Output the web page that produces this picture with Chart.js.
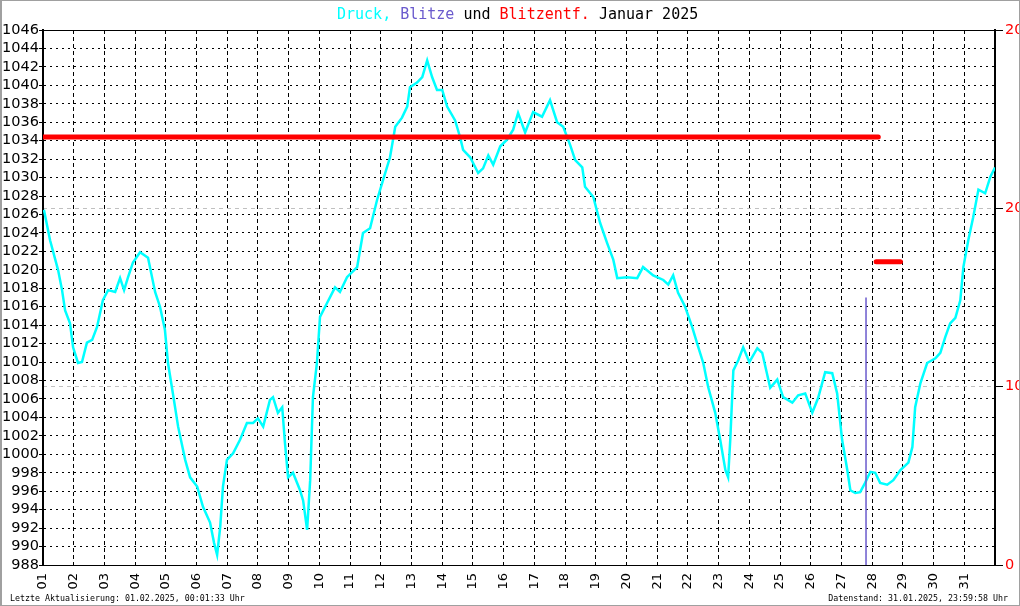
<!DOCTYPE html>
<html>
<head>
<meta charset="utf-8">
<script src="https://cdn.jsdelivr.net/npm/chart.js@4.4.1/dist/chart.umd.min.js"></script>
<style>
body{margin:0;background:#fff}
#rahmen{position:relative;width:1020px;height:606px;overflow:hidden}
#rand{position:absolute;left:0;top:0;width:1020px;height:606px;box-sizing:border-box;border:1px solid #a0a0a0;border-left-width:2px;pointer-events:none}
#titel{position:absolute;left:337px;top:5px;font:15px "DejaVu Sans Mono",monospace;white-space:pre;line-height:18px;color:#000}
.fuss{position:absolute;top:593px;font:8.3px "DejaVu Sans Mono",monospace;white-space:pre;line-height:10px;color:#000}
</style>
</head>
<body>
<div id="rahmen">
  <canvas id="druck" width="1020" height="606"></canvas>
  <div id="titel"><span style="color:#00ffff">Druck,</span> <span style="color:#6a5acd">Blitze</span> und <span style="color:#ff0000">Blitzentf.</span> Januar 2025</div>
  <div class="fuss" style="left:10px">Letzte Aktualisierung: 01.02.2025, 00:01:33 Uhr</div>
  <div class="fuss" style="right:12px">Datenstand: 31.01.2025, 23:59:58 Uhr</div>
  <div id="rand"></div>
</div>
<script>
// Luftdruck (hPa), Zeit als Tag im Januar (1.0 = 01.01. 00:00)
var druckTag = [
  1.03,1.23,1.49,1.62,1.72,1.88,1.98,2.14,2.27,2.43,
  2.60,2.76,2.95,3.12,3.35,3.51,3.64,3.77,3.93,4.16,
  4.42,4.65,4.81,4.97,5.07,5.23,5.40,5.63,5.79,6.02,
  6.21,6.44,6.57,6.67,6.77,6.86,6.99,7.19,7.42,7.64,
  7.84,8.00,8.17,8.39,8.49,8.65,8.79,8.88,8.98,9.14,
  9.37,9.47,9.60,9.70,9.79,9.92,10.02,10.25,10.51,10.67,
  10.90,11.23,11.42,11.65,11.88,12.07,12.30,12.47,12.69,12.86,
  12.95,13.18,13.35,13.51,13.67,13.83,14.00,14.16,14.42,14.58,
  14.68,14.91,15.17,15.33,15.50,15.66,15.89,16.11,16.31,16.47,
  16.70,16.96,17.25,17.51,17.74,17.94,18.17,18.33,18.56,18.65,
  18.92,19.14,19.37,19.57,19.70,20.02,20.35,20.54,20.87,21.20,
  21.36,21.52,21.68,21.91,22.14,22.34,22.50,22.66,22.89,23.05,
  23.22,23.31,23.38,23.48,23.64,23.80,24.00,24.26,24.42,24.68,
  24.91,25.10,25.40,25.59,25.82,26.05,26.24,26.47,26.70,26.86,
  27.02,27.19,27.29,27.45,27.61,27.77,27.94,28.10,28.26,28.49,
  28.69,28.92,29.18,29.31,29.40,29.57,29.79,30.06,30.22,30.38,
  30.54,30.71,30.87,30.97,31.13,31.29,31.46,31.68,31.85,32.00
];
var druckWert = [
  1026.5,1023.2,1020.0,1017.8,1015.6,1014.2,1011.6,1009.9,1010.0,1012.1,
  1012.4,1013.8,1016.7,1017.8,1017.6,1019.1,1017.8,1019.2,1020.8,1021.9,
  1021.3,1017.6,1016.0,1013.5,1009.9,1006.6,1003.0,999.4,997.5,996.5,
  994.3,992.6,990.4,989.1,992.1,996.5,999.4,1000.1,1001.6,1003.4,
  1003.4,1003.9,1003.0,1005.9,1006.2,1004.5,1005.1,1001.2,997.5,998.0,
  996.1,995.0,991.8,997.2,1006.2,1009.9,1014.9,1016.4,1018.1,1017.6,
  1019.2,1020.3,1024.0,1024.5,1027.6,1029.7,1032.2,1035.5,1036.5,1037.7,
  1039.8,1040.3,1040.9,1042.7,1040.9,1039.5,1039.5,1037.7,1036.2,1034.4,
  1033.0,1032.2,1030.5,1031.0,1032.4,1031.4,1033.4,1034.1,1035.2,1037.0,
  1034.9,1037.1,1036.6,1038.4,1036.0,1035.5,1033.5,1031.9,1031.1,1029.0,
  1027.9,1025.1,1022.9,1021.1,1019.1,1019.2,1019.1,1020.3,1019.4,1018.9,
  1018.4,1019.4,1017.5,1016.0,1013.8,1011.6,1009.9,1007.3,1004.5,1001.6,
  998.3,997.5,1001.6,1009.1,1010.2,1011.6,1010.0,1011.5,1011.0,1007.2,
  1008.1,1006.2,1005.6,1006.4,1006.6,1004.5,1006.1,1008.9,1008.8,1006.6,
  1001.6,998.3,996.1,995.8,995.9,996.9,998.1,998.0,996.9,996.7,
  997.2,998.3,999.1,1000.8,1005.1,1007.7,1009.9,1010.4,1011.0,1012.7,
  1014.2,1014.8,1016.7,1020.3,1023.2,1025.7,1028.7,1028.3,1030.1,1031.1
];

// Blitze (Anzahl) - rechte Achse
var blitzTag = [27.8];
var blitzAnzahl = [15];

// Blitzentfernung (km) - rechte Achse, Abschnitte
var entfVon = [1.0, 28.13];
var entfBis = [28.2, 28.92];
var entfWert = [24, 17];

// Achsen
var druckMin = 988, druckMax = 1046, druckSchritt = 2;
var rechtsMin = 0, rechtsMax = 30, rechtsSchritt = 10;
var rechtsLabels = {0: '0', 10: '10', 20: '20', 30: '20'};

var datensaetze = [];

entfVon.forEach(function(von, i){
    datensaetze.push({
        label: 'Blitzentf.',
        data: [{x: von, y: entfWert[i]}, {x: entfBis[i], y: entfWert[i]}],
        yAxisID: 'y2',
        borderColor: '#ff0000',
        borderWidth: 5,
        borderCapStyle: 'round',
        pointRadius: 0,
        order: 0
    });
});

blitzTag.forEach(function(t, i){
    datensaetze.push({
        label: 'Blitze',
        data: [{x: t, y: 0}, {x: t, y: blitzAnzahl[i]}],
        yAxisID: 'y2',
        borderColor: '#6a5acd',
        borderWidth: 1.5,
        pointRadius: 0,
        order: 1
    });
});

datensaetze.push({
    label: 'Druck',
    data: druckTag.map(function(t, i){ return {x: t, y: druckWert[i]}; }),
    yAxisID: 'y',
    borderColor: '#00ffff',
    borderWidth: 2.5,
    pointRadius: 0,
    tension: 0,
    order: 2
});

var obenLinie = {
    id: 'obenLinie',
    afterDraw: function(chart){
        var c = chart.ctx, a = chart.chartArea;
        c.save();
        c.strokeStyle = '#000';
        c.lineWidth = 1;
        c.beginPath();
        c.moveTo(a.left, a.top + 0.5);
        c.lineTo(a.right, a.top + 0.5);
        c.stroke();
        c.restore();
    }
};

var ctxDruck = document.getElementById('druck');
var grafik = new Chart(ctxDruck, {
    type: 'line',
    data: {datasets: datensaetze},
    options: {
        responsive: false,
        animation: false,
        layout: {padding: {top: 30, left: 0, right: 0, bottom: 0}},
        plugins: {legend: {display: false}, tooltip: {enabled: false}},
        scales: {
            x: {
                type: 'linear', min: 1, max: 32, offset: false,
                afterFit: function(s){ s.height = 41; },
                ticks: {
                    stepSize: 1, autoSkip: false, minRotation: 90, maxRotation: 90,
                    padding: 8, color: '#000',
                    font: {family: 'DejaVu Sans', size: 13},
                    callback: function(v){ return v <= 31 ? (v < 10 ? '0' : '') + v : ''; }
                },
                grid: {color: '#000', drawTicks: false},
                border: {display: true, color: '#000', width: 1, dash: [4, 3]}
            },
            y: {
                position: 'left', min: druckMin, max: druckMax,
                afterFit: function(s){ s.width = 43; },
                ticks: {stepSize: druckSchritt, autoSkip: false, padding: 0, color: '#000',
                        font: {family: 'DejaVu Sans', size: 14.5},
                        callback: function(v){ return String(v); }},
                grid: {color: '#000', tickLength: 4, tickColor: '#000', tickBorderDash: []},
                border: {display: true, color: '#000', width: 2, dash: [2, 4]}
            },
            y2: {
                position: 'right', min: rechtsMin, max: rechtsMax,
                afterFit: function(s){ s.width = 25; },
                ticks: {stepSize: rechtsSchritt, padding: 2, color: '#ff0000',
                        font: {family: 'DejaVu Sans', size: 14.5},
                        callback: function(v){ return rechtsLabels[v]; }},
                grid: {
                    color: function(c){
                        return (c.tick && (c.tick.value === 10 || c.tick.value === 20)) ? '#c0c0c0' : 'rgba(0,0,0,0)';
                    },
                    tickLength: 8, tickColor: '#000', tickBorderDash: []
                },
                border: {display: true, color: '#000', width: 2, dash: [4, 4]}
            }
        }
    },
    plugins: [obenLinie]
});
</script>
</body>
</html>
